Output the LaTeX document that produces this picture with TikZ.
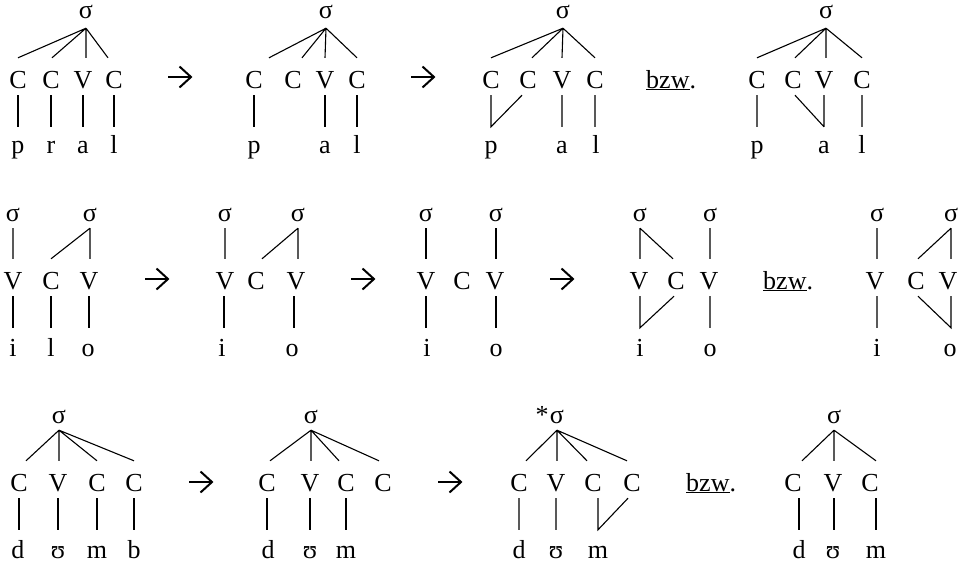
\documentclass[tikz,border=0pt]{standalone}
\usepackage{fontspec}
\setmainfont{Liberation Serif}
\usetikzlibrary{calc}
\tikzset{
  sig/.style={anchor=base, inner sep=0pt, text height=12pt, text depth=7pt},
  sigtop/.style={sig, text depth=10pt},
  seg/.style={anchor=base, inner sep=0pt, text height=30pt, text depth=7pt},
  phon/.style={anchor=base, inner sep=0pt, text height=28pt, text depth=0pt},
  phontop/.style={phon, text height=26pt},
  link/.style={line width=1.1pt},
  gloss/.style={anchor=base west, inner sep=0pt},
  rarrow/.pic={
    \draw[line width=2pt] (-12,0) -- (10.5,0);
    \draw[line width=2pt, line join=miter] (-0.5,-10.5) -- (11,0) -- (-0.5,10.5);
  }
}
\begin{document}
\begin{tikzpicture}[x=1pt, y=-1pt, font=\fontsize{26}{30}\selectfont]
\fill[white] (0,0) rectangle (961,568);
\useasboundingbox (0,0) rectangle (961,568);

% ---------- row 1: pral -> pal ----------
\node[sigtop] (a0) at (86,18) {σ};
\node[seg] (a1) at (18,88) {C};
\node[seg] (a2) at (51,88) {C};
\node[seg] (a3) at (83,88) {V};
\node[seg] (a4) at (114,88) {C};
\node[phontop] (a5) at (18,153) {p};
\node[phontop] (a6) at (51,153) {r};
\node[phontop] (a7) at (83,153) {a};
\node[phontop] (a8) at (114,153) {l};
\draw[link] (a0.south) -- (a1.north) (a0.south) -- ([xshift=1pt]a2.north)
  (a0.south) -- (a0.south |- a3.north) (a0.south) -- ([xshift=-6pt]a4.north);
\draw[link] (a1.south) -- (a1.south |- a5.north) (a2.south) -- (a2.south |- a6.north)
  (a3.south) -- (a3.south |- a7.north) (a4.south) -- (a4.south |- a8.north);
\pic at (180,77) {rarrow};

\node[sigtop] (b0) at (326,18) {σ};
\node[seg] (b1) at (254,88) {C};
\node[seg] (b2) at (293,88) {C};
\node[seg] (b3) at (325,88) {V};
\node[seg] (b4) at (357,88) {C};
\node[phontop] (b5) at (254,153) {p};
\node[phontop] (b7) at (325,153) {a};
\node[phontop] (b8) at (357,153) {l};
\draw[link] (b0.south) -- ([xshift=15pt]b1.north) (b0.south) -- ([xshift=9pt]b2.north)
  (b0.south) -- (b3.north) (b0.south) -- (b4.north);
\draw[link] (b1.south) -- (b1.south |- b5.north) (b3.south) -- (b3.south |- b7.north)
  (b4.south) -- (b4.south |- b8.north);
\pic at (423,77) {rarrow};

\node[sigtop] (c0) at (563,18) {σ};
\node[seg] (c1) at (491,88) {C};
\node[seg] (c2) at (528,88) {C};
\node[seg] (c3) at (562,88) {V};
\node[seg] (c4) at (595,88) {C};
\node[phontop] (c5) at (491,153) {p};
\node[phontop] (c7) at (562,153) {a};
\node[phontop] (c8) at (596,153) {l};
\draw[link] (c0.south) -- (c1.north) (c0.south) -- ([xshift=4pt]c2.north)
  (c0.south) -- (c3.north) (c0.south) -- (c4.north);
\draw[link] (c1.south) -- (c1.south |- c5.north) -- ([xshift=-6pt]c2.south)
  (c3.south) -- (c3.south |- c7.north) (c4.south) -- (c4.south |- c8.north);
\node[gloss] (g1) at (646,88) {\underline{bzw}.};

\node[sigtop] (d0) at (826,18) {σ};
\node[seg] (d1) at (757,88) {C};
\node[seg] (d2) at (793,88) {C};
\node[seg] (d3) at (824,88) {V};
\node[seg] (d4) at (862,88) {C};
\node[phontop] (d5) at (757,153) {p};
\node[phontop] (d7) at (824,153) {a};
\node[phontop] (d8) at (862,153) {l};
\draw[link] (d0.south) -- (d1.north) (d0.south) -- ([xshift=2pt]d2.north)
  (d0.south) -- (d0.south |- d3.north) (d0.south) -- (d4.north);
\draw[link] (d1.south) -- (d1.south |- d5.north) ([xshift=2pt]d2.south) -- (d7.north)
  (d3.south) -- (d3.south |- d7.north) (d4.south) -- (d4.south |- d8.north);

% ---------- row 2: ilo -> io ----------
\node[sig] (e0) at (13,221) {σ};
\node[sig] (e1) at (90,221) {σ};
\node[seg] (e2) at (13,289) {V};
\node[seg] (e3) at (51,289) {C};
\node[seg] (e4) at (89,289) {V};
\node[phon] (e5) at (13,356) {i};
\node[phon] (e6) at (51,356) {l};
\node[phon] (e7) at (88,356) {o};
\draw[link] (e0.south) -- (e0.south |- e2.north) (e1.south) -- (e1.south |- e4.north)
  (e1.south) -- (e3.north);
\draw[link] (e2.south) -- (e2.south |- e5.north) (e3.south) -- (e3.south |- e6.north)
  (e4.south) -- (e4.south |- e7.north);
\pic at (157,279) {rarrow};

\node[sig] (f0) at (225,221) {σ};
\node[sig] (f1) at (298,221) {σ};
\node[seg] (f2) at (225,289) {V};
\node[seg] (f3) at (256,289) {C};
\node[seg] (f4) at (296,289) {V};
\node[phon] (f5) at (222,356) {i};
\node[phon] (f7) at (292,356) {o};
\draw[link] (f0.south) -- (f0.south |- f2.north) (f1.south) -- (f1.south |- f4.north)
  (f1.south) -- ([xshift=6pt]f3.north);
\draw[link] ([xshift=-1pt]f2.south) -- ([xshift=-1pt]f2.south |- f5.north)
  ([xshift=-2pt]f4.south) -- ([xshift=-2pt]f4.south |- f7.north);
\pic at (363,279) {rarrow};

\node[sig] (h0) at (426,221) {σ};
\node[sig] (h1) at (496,221) {σ};
\node[seg] (h2) at (426,289) {V};
\node[seg] (h3) at (462,289) {C};
\node[seg] (h4) at (495,289) {V};
\node[phon] (h5) at (427,356) {i};
\node[phon] (h7) at (496,356) {o};
\draw[link] (h0.south) -- (h0.south |- h2.north) (h1.south) -- (h1.south |- h4.north);
\draw[link] (h2.south) -- (h2.south |- h5.north) (h1.south |- h4.south) -- (h1.south |- h7.north);
\pic at (562,279) {rarrow};

\node[sig] (k0) at (640,221) {σ};
\node[sig] (k1) at (710,221) {σ};
\node[seg] (k2) at (639,289) {V};
\node[seg] (k3) at (676,289) {C};
\node[seg] (k4) at (709,289) {V};
\node[phon] (k5) at (640,356) {i};
\node[phon] (k7) at (710,356) {o};
\draw[link] (k0.south) -- (k0.south |- k2.north) (k0.south) -- ([xshift=-3pt]k3.north)
  (k1.south) -- (k1.south |- k4.north);
\draw[link] (k0.south |- k2.south) -- (k0.south |- k5.north) -- ([xshift=-2pt]k3.south)
  (k1.south |- k4.south) -- (k1.south |- k7.north);
\node[gloss] (g2) at (763,289) {\underline{bzw}.};

\node[sig] (m0) at (877,221) {σ};
\node[sig] (m1) at (951,221) {σ};
\node[seg] (m2) at (875,289) {V};
\node[seg] (m3) at (916,289) {C};
\node[seg] (m4) at (948,289) {V};
\node[phon] (m5) at (877,356) {i};
\node[phon] (m7) at (950,356) {o};
\draw[link] (m0.south) -- (m0.south |- m2.north) (m1.south) -- (m1.south |- m4.north)
  (m1.south) -- ([xshift=2pt]m3.north);
\draw[link] (m0.south |- m2.south) -- (m0.south |- m5.north)
  ([xshift=2pt]m3.south) -- (m1.south |- m7.north) -- (m1.south |- m4.south);

% ---------- row 3: dumb -> dum ----------
\node[sig] (n0) at (59,423) {σ};
\node[seg] (n1) at (19,491) {C};
\node[seg] (n2) at (58,491) {V};
\node[seg] (n3) at (97,491) {C};
\node[seg] (n4) at (134,491) {C};
\node[phon] (n5) at (18,558) {d};
\node[phon] (n6) at (58,558) {ʊ};
\node[phon] (n7) at (97,558) {m};
\node[phon] (n8) at (134,558) {b};
\draw[link] (n0.south) -- ([xshift=7pt]n1.north) (n0.south) -- (n0.south |- n2.north)
  (n0.south) -- (n3.north) (n0.south) -- (n4.north);
\draw[link] (n1.south) -- (n1.south |- n5.north) (n2.south) -- (n2.south |- n6.north)
  (n3.south) -- (n3.south |- n7.north) (n4.south) -- (n4.south |- n8.north);
\pic at (201,482) {rarrow};

\node[sig] (p0) at (311,423) {σ};
\node[seg] (p1) at (267,491) {C};
\node[seg] (p2) at (310,491) {V};
\node[seg] (p3) at (346,491) {C};
\node[seg] (p4) at (383,491) {C};
\node[phon] (p5) at (268,558) {d};
\node[phon] (p6) at (310,558) {ʊ};
\node[phon] (p7) at (346,558) {m};
\draw[link] (p0.south) -- ([xshift=3pt]p1.north) (p0.south) -- (p0.south |- p2.north)
  (p0.south) -- ([xshift=-7pt]p3.north) (p0.south) -- ([xshift=-4pt]p4.north);
\draw[link] (p1.south) -- (p1.south |- p5.north) (p2.south) -- (p2.south |- p6.north)
  (p3.south) -- (p3.south |- p7.north);
\pic at (450,482) {rarrow};

\node[sig] (q0) at (557,423) {σ};
\node[anchor=base east, inner sep=0pt] (q0s) at ([xshift=-1pt]q0.base west) {*};
\node[seg] (q1) at (519,491) {C};
\node[seg] (q2) at (556,491) {V};
\node[seg] (q3) at (593,491) {C};
\node[seg] (q4) at (632,491) {C};
\node[phon] (q5) at (519,558) {d};
\node[phon] (q6) at (556,558) {ʊ};
\node[phon] (q7) at (598,558) {m};
\draw[link] (q0.south) -- ([xshift=7pt]q1.north) (q0.south) -- (q0.south |- q2.north)
  (q0.south) -- ([xshift=-6pt]q3.north) (q0.south) -- ([xshift=-5pt]q4.north);
\draw[link] (q1.south) -- (q1.south |- q5.north) (q2.south) -- (q2.south |- q6.north)
  (q7.north |- q3.south) -- (q7.north) -- ([xshift=-4pt]q4.south);
\node[gloss] (g3) at (686,491) {\underline{bzw}.};

\node[sig] (r0) at (834,423) {σ};
\node[seg] (r1) at (793,491) {C};
\node[seg] (r2) at (833,491) {V};
\node[seg] (r3) at (870,491) {C};
\node[phon] (r5) at (799,558) {d};
\node[phon] (r6) at (833,558) {ʊ};
\node[phon] (r7) at (876,558) {m};
\draw[link] (r0.south) -- ([xshift=9pt]r1.north) (r0.south) -- (r0.south |- r2.north)
  (r0.south) -- ([xshift=6pt]r3.north);
\draw[link] (r5.north |- r1.south) -- (r5.north) (r0.south |- r2.south) -- (r0.south |- r6.north)
  (r7.north |- r3.south) -- (r7.north);
\end{tikzpicture}
\end{document}
